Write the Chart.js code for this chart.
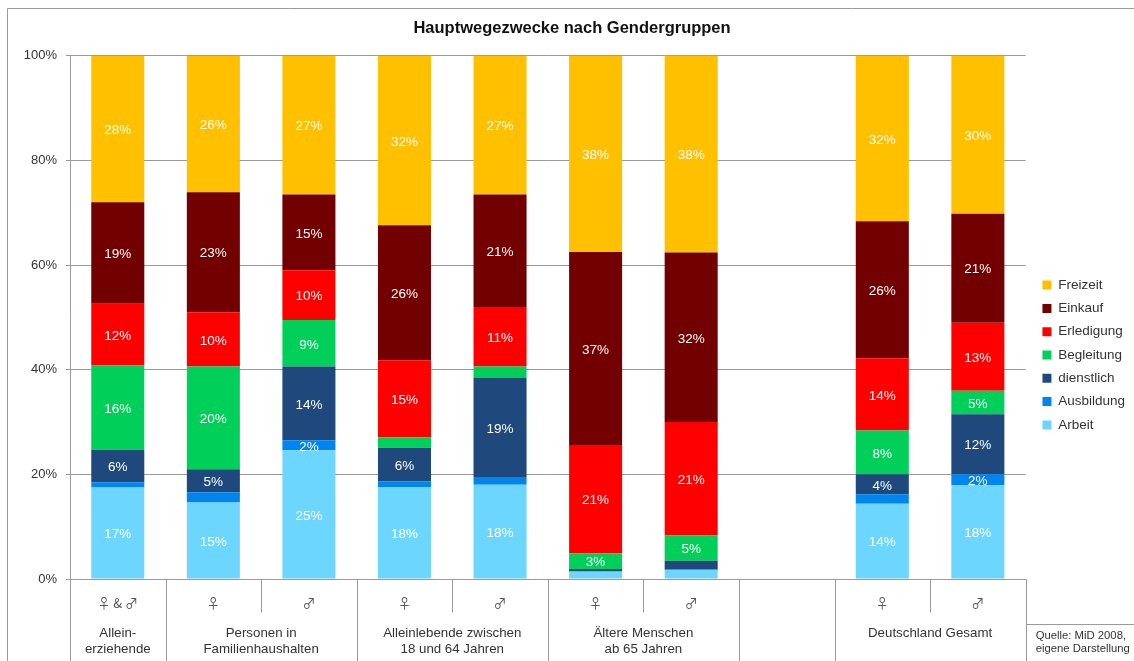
<!DOCTYPE html>
<html lang="de">
<head>
<meta charset="utf-8">
<title>Hauptwegezwecke nach Gendergruppen</title>
<script src="https://cdn.jsdelivr.net/npm/chart.js@4/dist/chart.umd.min.js"></script>
<style>
    html, body { margin: 0; padding: 0; background: #fff; }
    #box { position: relative; width: 1134px; height: 661px; }
</style>
</head>
<body>
<div id="box"><canvas id="chart"></canvas></div>
<script>
const categories = ['♀ & ♂', '♀', '♂', '♀', '♂', '♀', '♂', '', '♀', '♂'];

const arbeit     = [17.5, 14.6, 24.6, 17.6, 18.0,  1.4,  1.7, null, 14.4, 17.9];
const ausbildung = [ 1.0,  2.0,  1.9,  1.1,  1.5,  0.1,  0.1, null,  1.8,  2.1];
const dienstlich = [ 6.2,  4.4, 14.1,  6.4, 18.9,  0.4,  1.7, null,  3.8, 11.5];
const begleitung = [16.1, 19.6,  8.9,  2.0,  2.2,  3.0,  4.8, null,  8.4,  4.5];
const erledigung = [11.8, 10.4,  9.5, 14.7, 11.4, 20.7, 21.7, null, 13.8, 13.0];
const einkauf    = [19.4, 22.9, 14.5, 25.8, 21.5, 36.9, 32.4, null, 26.2, 20.8];
const freizeit   = [28.0, 26.1, 26.5, 32.4, 26.5, 37.5, 37.7, null, 31.6, 30.2];

// printed percentages, null where the picture has no label
const arbeitText     = [17, 15, 25, 18, 18, null, null, null, 14, 18];
const ausbildungText = [null, null, 2, null, null, null, null, null, null, 2];
const dienstlichText = [6, 5, 14, 6, 19, null, null, null, 4, 12];
const begleitungText = [16, 20, 9, null, null, 3, 5, null, 8, 5];
const erledigungText = [12, 10, 10, 15, 11, 21, 21, null, 14, 13];
const einkaufText    = [19, 23, 15, 26, 21, 37, 32, null, 26, 21];
const freizeitText   = [28, 26, 27, 32, 27, 38, 38, null, 32, 30];

// first slot, slot count, text lines of the lower table row
const groups = [
    [0, 1, ['Allein-', 'erziehende']],
    [1, 2, ['Personen in', 'Familienhaushalten']],
    [3, 2, ['Alleinlebende zwischen', '18 und 64 Jahren']],
    [5, 2, ['Ältere Menschen', 'ab 65 Jahren']],
    [7, 1, []],
    [8, 2, ['Deutschland Gesamt']],
];
const sourceLines = ['Quelle: MiD 2008,', 'eigene Darstellung'];

const FONT = '"Liberation Sans", Arial, sans-serif';
const GRAY = '#9a9a9a';

function series(label, data, color, text) {
    return { label, data, backgroundColor: color, text, borderWidth: 0,
             categoryPercentage: 1, barPercentage: 0.555 };
}

// legend and title sit a bit off from where the layout puts them
const boxShift = {
    id: 'boxShift',
    afterLayout(chart) {
        const l = chart.legend;
        l.left += 7;
        l.right += 7;
        l.top += 15;
        l.bottom += 15;
        chart.titleBlock.left += 3;
        chart.titleBlock.right += 3;
    }
};

const barLabels = {
    id: 'barLabels',
    afterDatasetsDraw(chart) {
        const ctx = chart.ctx;
        ctx.save();
        ctx.font = '13.5px ' + FONT;
        ctx.fillStyle = '#fff';
        ctx.textAlign = 'center';
        ctx.textBaseline = 'middle';
        chart.data.datasets.forEach((ds, i) => {
            chart.getDatasetMeta(i).data.forEach((bar, j) => {
                if (ds.text[j] == null) return;
                const c = bar.getCenterPoint();
                ctx.fillText(ds.text[j] + '%', c.x, c.y + 1.5);
            });
        });
        ctx.restore();
    }
};

const tableLines = {
    id: 'tableLines',
    afterDraw(chart) {
        const ctx = chart.ctx;
        const x = chart.scales.x;
        const top = chart.chartArea.bottom;
        const edge = i => x.left + (x.right - x.left) * i / categories.length;
        ctx.save();
        ctx.strokeStyle = GRAY;
        ctx.lineWidth = 1;
        const line = (x1, y1, x2, y2) => {
            ctx.beginPath();
            ctx.moveTo(Math.round(x1) + 0.5, y1 + 0.5);
            ctx.lineTo(Math.round(x2) + 0.5, y2 + 0.5);
            ctx.stroke();
        };
        // chart frame
        line(7, 661, 7, 8);
        line(7, 8, 1134, 8);
        // table
        line(x.left, top, x.right, top);
        groups.forEach(([start, span]) => {
            line(edge(start), top, edge(start), 661);
            if (span === 2) line(edge(start + 1), top, edge(start + 1), top + 33);
        });
        line(x.right, top, x.right, 661);
        line(x.right, top + 45, 1134, top + 45);

        ctx.fillStyle = '#333';
        ctx.font = '13.3px ' + FONT;
        ctx.textAlign = 'center';
        ctx.textBaseline = 'middle';
        groups.forEach(([start, span, lines]) => {
            const mid = (edge(start) + edge(start + span)) / 2;
            lines.forEach((t, i) => ctx.fillText(t, mid, top + 54 + i * 16));
        });
        ctx.font = '11.3px ' + FONT;
        ctx.textAlign = 'left';
        sourceLines.forEach((t, i) => ctx.fillText(t, x.right + 10, top + 57 + i * 13));
        ctx.restore();
    }
};

new Chart(document.getElementById('chart'), {
    type: 'bar',
    data: {
        labels: categories,
        datasets: [
            series('Arbeit', arbeit, '#6DD6FF', arbeitText),
            series('Ausbildung', ausbildung, '#0085EE', ausbildungText),
            series('dienstlich', dienstlich, '#1F497D', dienstlichText),
            series('Begleitung', begleitung, '#00D05A', begleitungText),
            series('Erledigung', erledigung, '#FF0000', erledigungText),
            series('Einkauf', einkauf, '#720000', einkaufText),
            series('Freizeit', freizeit, '#FFC000', freizeitText),
        ]
    },
    options: {
        responsive: true,
        maintainAspectRatio: false,
        animation: false,
        layout: { padding: { left: 10, right: 6, top: 19, bottom: 0 } },
        plugins: {
            title: {
                display: true,
                text: 'Hauptwegezwecke nach Gendergruppen',
                color: '#111',
                font: { family: FONT, size: 16.5, weight: 'bold' },
                padding: { top: 0, bottom: 17 },
            },
            legend: {
                position: 'right',
                reverse: true,
                labels: {
                    boxWidth: 9,
                    boxHeight: 9,
                    color: '#333',
                    padding: 9.8,
                    font: { family: FONT, size: 13.5 },
                },
            },
            tooltip: { enabled: false },
        },
        scales: {
            x: {
                stacked: true,
                grid: { display: false },
                border: { display: false },
                afterFit(axis) { axis.height = 82; },
                ticks: {
                    autoSkip: false,
                    maxRotation: 0,
                    color: '#555',
                    padding: 8,
                    font: { family: '"Noto Sans CJK SC", "DejaVu Sans", sans-serif', size: 13 },
                },
            },
            y: {
                stacked: true,
                min: 0,
                max: 100,
                afterFit(axis) { axis.width = 60; },
                grid: { color: GRAY, tickLength: 4, tickColor: GRAY },
                border: { color: GRAY },
                ticks: {
                    stepSize: 20,
                    color: '#333',
                    padding: 9,
                    font: { family: FONT, size: 13 },
                    callback: v => v + '%',
                },
            },
        },
    },
    plugins: [boxShift, barLabels, tableLines],
});
</script>
</body>
</html>
